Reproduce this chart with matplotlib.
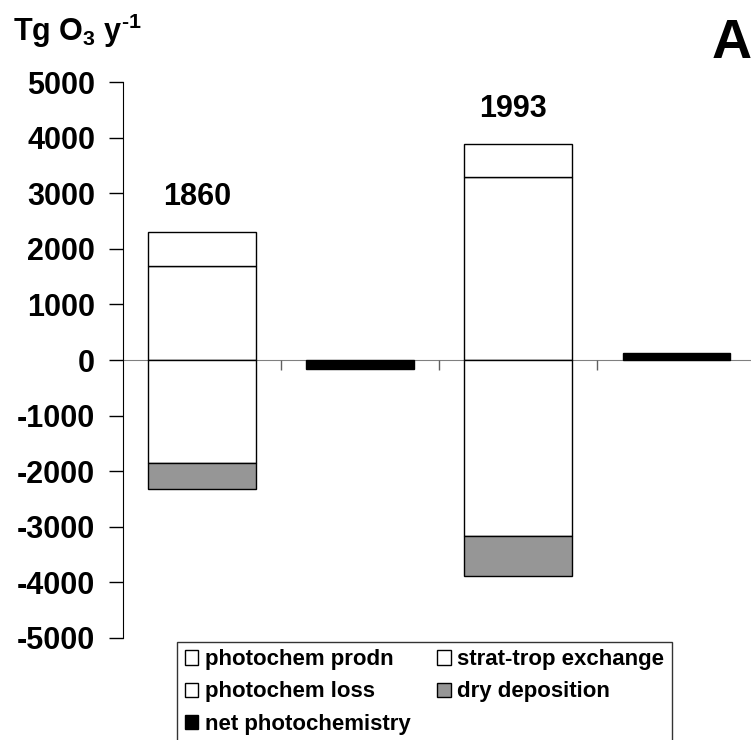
import matplotlib.pyplot as plt
from matplotlib.patches import Patch

plt.rcParams['font.family'] = ['Liberation Sans', 'DejaVu Sans']
plt.rcParams['font.weight'] = 'bold'
plt.rcParams['axes.unicode_minus'] = False
plt.rcParams['mathtext.fontset'] = 'custom'
plt.rcParams['mathtext.bf'] = 'Liberation Sans:bold'
plt.rcParams['mathtext.rm'] = 'Liberation Sans:bold'
plt.rcParams['mathtext.default'] = 'bf'

years = ['1860', '1993']
# Tg O3 per year
photochem_prodn = [1700, 3300]
strat_trop = [600, 580]
photochem_loss = [-1860, -3170]
dry_deposition = [-460, -710]
net_photochem = [-165, 135]

fig = plt.figure(figsize=(7.51, 7.4), dpi=100)
ax = fig.add_axes([0.1638, 0.138, 0.842, 0.751])

w = 0.68
xs = [0, 2]      # budget columns
xn = [1, 3]      # net photochemistry columns
ax.bar(xs, photochem_prodn, width=w, color='white', edgecolor='black', linewidth=1)
ax.bar(xs, strat_trop, width=w, bottom=photochem_prodn, color='white', edgecolor='black', linewidth=1)
ax.bar(xs, photochem_loss, width=w, color='white', edgecolor='black', linewidth=1)
ax.bar(xs, dry_deposition, width=w, bottom=photochem_loss, color='#969696', edgecolor='black', linewidth=1)
ax.bar(xn, net_photochem, width=w, color='black', edgecolor='black', linewidth=1)

for i in range(len(years)):
    top = photochem_prodn[i] + strat_trop[i]
    ax.text(xs[i] - 0.03, top + 360, years[i], ha='center', va='bottom', fontsize=22, fontweight='bold')

ax.set_xlim(-0.5, 3.5)
ax.set_ylim(-5000, 5000)
ax.set_yticks(range(-5000, 5001, 1000))
ax.tick_params(axis='y', labelsize=22, length=10, width=1, direction='out', pad=10)
for lb in ax.get_yticklabels():
    lb.set_fontweight('bold')

ax.spines['top'].set_visible(False)
ax.spines['right'].set_visible(False)
ax.spines['bottom'].set_position(('data', 0))
ax.spines['bottom'].set_color('#808080')
ax.spines['bottom'].set_zorder(0)
ax.set_xticks([0.5, 1.5, 2.5, 3.5])
ax.set_xticklabels([])
ax.tick_params(axis='x', length=7, width=1, direction='out', color='#606060')

fig.text(0.017, 0.958, r'Tg O$_{3}$ y$^{\text{-1}}$', fontsize=22, fontweight='bold', va='center')
fig.text(0.948, 0.94, 'A', fontsize=40, fontweight='bold', va='center')

handles = [
    Patch(facecolor='white', edgecolor='black', label='photochem prodn'),
    Patch(facecolor='white', edgecolor='black', label='photochem loss'),
    Patch(facecolor='black', edgecolor='black', label='net photochemistry'),
    Patch(facecolor='white', edgecolor='black', label='strat-trop exchange'),
    Patch(facecolor='#969696', edgecolor='black', label='dry deposition'),
]
leg = fig.legend(handles=handles, ncol=2, loc='upper left', bbox_to_anchor=(0.236, 0.133),
                 prop={'size': 16, 'weight': 'bold'}, frameon=True, fancybox=False,
                 edgecolor='black', handlelength=0.6, handleheight=0.6, handletextpad=0.3,
                 columnspacing=1.2, labelspacing=0.5, borderpad=0.35, borderaxespad=0)
leg.get_frame().set_linewidth(1)

fig.savefig('out.png', dpi=100)
